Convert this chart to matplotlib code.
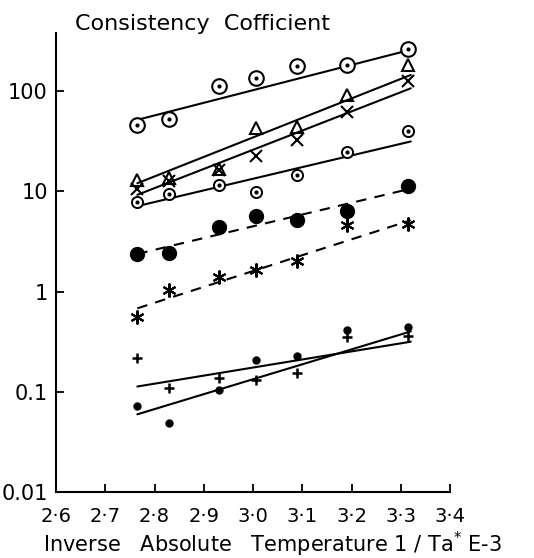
import matplotlib
matplotlib.use("Agg")
import matplotlib.pyplot as plt
import numpy as np

plt.rcParams['font.family'] = ['DejaVu Sans']

# x positions (inverse absolute temperature, x1e-3)
x = [2.765, 2.83, 2.93, 3.005, 3.09, 3.19, 3.315]

# series values
s_big_circle = [46, 52, 112, 135, 175, 179, 262]
s_triangle = [12.8, 13.5, 16.8, 42.5, 43.5, 91, 182]
s_cross = [10.4, 12.5, 16.4, 22.5, 32.5, 62, 124]
s_small_circle = [7.8, 9.4, 11.6, 9.8, 14.6, 24.7, 39.4]
s_filled = [2.37, 2.43, 4.36, 5.61, 5.2, 6.3, 11.2]
s_star = [0.555, 1.03, 1.39, 1.62, 2.03, 4.65, 4.72]
s_dot = [0.072, 0.0486, 0.104, 0.21, 0.23, 0.41, 0.44]
s_plus = [0.219, 0.108, 0.138, 0.13, 0.155, 0.35, 0.36]

# fitted line end points
line_x = [2.765, 3.32]
fit_big_circle = [51.4, 257]
fit_triangle = [12.0, 144]
fit_cross = [9.2, 106]
fit_small_circle = [7.1, 31.3]
fit_filled = [2.37, 10.6]
fit_star = [0.68, 5.13]
fit_dot = [0.0597, 0.40]
fit_plus = [0.113, 0.316]

xticks = [2.6, 2.7, 2.8, 2.9, 3.0, 3.1, 3.2, 3.3, 3.4]
xtick_labels = ['2·6', '2·7', '2·8', '2·9', '3·0', '3·1', '3·2', '3·3', '3·4']
yticks = [0.01, 0.1, 1, 10, 100]
ytick_labels = ['0.01', '0.1', '1', '10', '100']

fig = plt.figure(figsize=(5.34, 5.58), dpi=100)
ax = fig.add_axes([0.105, 0.118, 0.738, 0.823])
ax.set_yscale('log')
ax.set_xlim(2.6, 3.4)
ax.set_ylim(0.01, 378)

k = 'black'
lw = 1.5
# solid lines
for fy in [fit_big_circle, fit_triangle, fit_cross, fit_small_circle, fit_dot, fit_plus]:
    ax.plot(line_x, fy, color=k, lw=lw, solid_capstyle='round')
for fy in [fit_filled, fit_star]:
    ax.plot(line_x, fy, color=k, lw=lw, ls=(0, (5, 4)))

# markers
ax.plot(x, s_big_circle, ls='none', marker='o', ms=10.5, mfc='white', mec=k, mew=1.5)
ax.plot(x, s_big_circle, ls='none', marker='o', ms=2, color=k)
ax.plot(x, s_triangle, ls='none', marker='^', ms=8, mfc='none', mec=k, mew=1.5)
ax.plot(x, s_cross, ls='none', marker='x', ms=8, color=k, mew=1.5)
ax.plot(x, s_small_circle, ls='none', marker='o', ms=8, mfc='white', mec=k, mew=1.4)
ax.plot(x, s_small_circle, ls='none', marker='o', ms=2, color=k)
ax.plot(x, s_filled, ls='none', marker='o', ms=10, color=k)
ax.plot(x, s_star, ls='none', marker=(6, 2, 0), ms=10, color=k, mew=1.5)
ax.plot(x, s_dot, ls='none', marker='o', ms=5, color=k)
ax.plot(x, s_plus, ls='none', marker='+', ms=7, color=k, mew=1.8)

ax.spines['top'].set_visible(False)
ax.spines['right'].set_visible(False)
ax.spines['left'].set_linewidth(1.5)
ax.spines['bottom'].set_linewidth(1.5)

ax.set_xticks(xticks)
ax.set_xticklabels(xtick_labels)
ax.set_yticks(yticks)
ax.set_yticklabels(ytick_labels)
ax.minorticks_off()
ax.tick_params(axis='both', direction='in', length=6, width=1.3)
ax.tick_params(axis='x', pad=11, labelsize=14)
ax.tick_params(axis='y', pad=6, labelsize=15)

fig.text(0.14, 0.947, 'Consistency  Cofficient', fontsize=16, ha='left', va='baseline')
fig.text(0.08, 0.011, r'Inverse   Absolute   Temperature 1 / Ta$^{*}$ E-3',
         fontsize=15, ha='left', va='baseline')

fig.savefig('out.png', dpi=100)
